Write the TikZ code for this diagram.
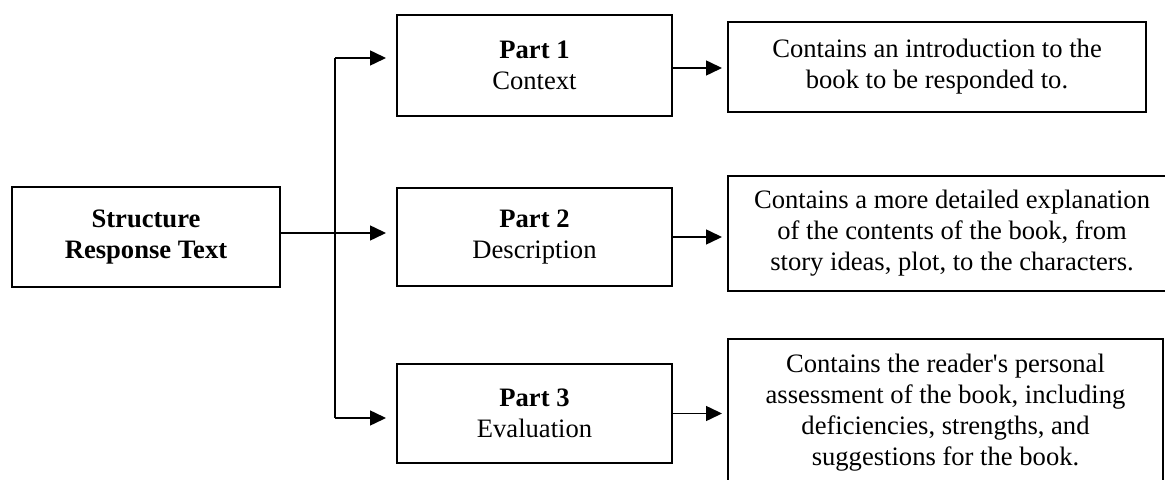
\documentclass[tikz,border=0pt]{standalone}
\usepackage{fontspec}
\setmainfont{Liberation Serif}[Ligatures=TeXOff]
\usetikzlibrary{arrows.meta}
\begin{document}
\begin{tikzpicture}[x=0.5pt,y=-0.5pt,
  box/.style={draw, line width=1pt, inner sep=0pt, align=center,
    font=\fontsize{13.3}{15.5}\selectfont},
  link/.style={line width=0.75pt},
  arr/.style={line width=0.75pt, -{Triangle[length=8pt,width=7.5pt]}}]
\useasboundingbox (0,0) rectangle (1165,480);
\node[box, minimum width=134pt, minimum height=50pt] (L) at (146,237) {\textbf{Structure}\\\textbf{Response Text}};
\node[box, minimum width=137.5pt, minimum height=50.5pt] (P1) at (534.5,65.5) {\textbf{Part 1}\\Context};
\node[box, minimum width=137.5pt, minimum height=49pt] (P2) at (534.5,237) {\textbf{Part 2}\\Description};
\node[box, minimum width=137.5pt, minimum height=49.5pt] (P3) at (534.5,413.5) {\textbf{Part 3}\\Evaluation};
\node[box, minimum width=209pt, minimum height=45pt] (D1) at (937,67) {Contains an introduction to the\\book to be responded to.};
\node[box, minimum width=224pt, minimum height=57.5pt] (D2) at (952,233.5) {Contains a more detailed explanation\\of the contents of the book, from\\story ideas, plot, to the characters.};
\node[box, minimum width=217.5pt, minimum height=74pt] (D3) at (945.5,413) {Contains the reader's personal\\assessment of the book, including\\deficiencies, strengths, and\\suggestions for the book.};
\coordinate (j1) at (335,58);
\coordinate (j2) at (335,233);
\coordinate (j3) at (335,418);
\draw[link] (j1) -- (j3);
\draw[arr, shorten >=5pt] (L.east |- j2) -- (P2.west |- j2);
\draw[arr, shorten >=5pt] (j1) -- (P1.west |- j1);
\draw[arr, shorten >=5pt] (j3) -- (P3.west |- j3);
\draw[arr, shorten >=2.5pt] ([yshift=-1.25pt]P1.east) -- ([yshift=-1.25pt]P1.east -| D1.west);
\draw[arr, shorten >=2.5pt] (P2.east) -- (P2.east -| D2.west);
\draw[arr, shorten >=2.5pt] (P3.east) -- (P3.east -| D3.west);
\end{tikzpicture}
\end{document}
